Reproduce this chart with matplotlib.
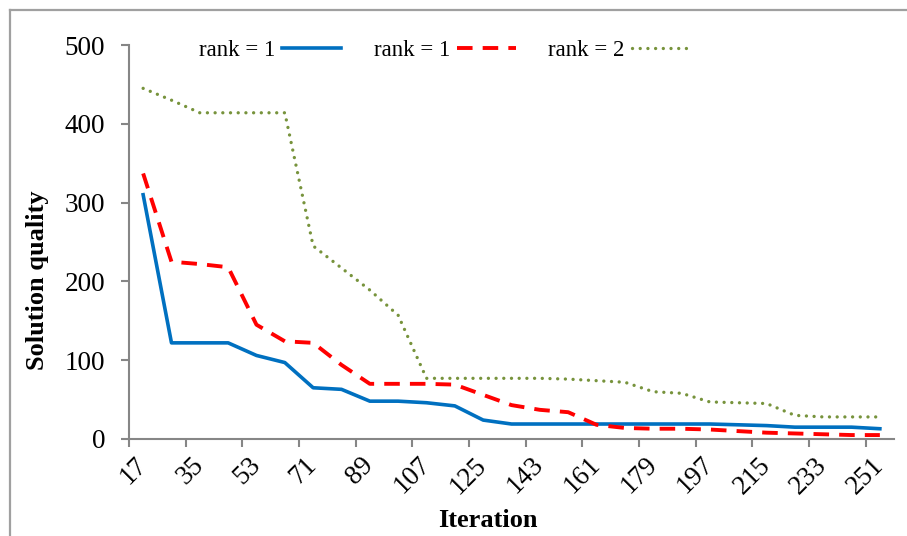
import numpy as np
import matplotlib.pyplot as plt
from matplotlib.lines import Line2D

# iteration categories (17, 26, ..., 251)
iterations = [17, 26, 35, 44, 53, 62, 71, 80, 89, 98, 107, 116, 125, 134,
              143, 152, 161, 170, 179, 188, 197, 206, 215, 224, 233, 242, 251]

rank1_a = [310, 122, 122, 122, 106, 97, 65, 63, 48, 48, 46, 42, 24, 19,
           19, 19, 19, 19, 19, 19, 19, 18, 17, 15, 15, 15, 13]
rank1_b = [337, 225, 222, 218, 145, 124, 122, 94, 70, 70, 70, 69, 56, 43,
           37, 34, 18, 14, 13, 13, 12, 10, 8, 7, 6, 5, 5]
rank2 = [445, 430, 414, 414, 414, 414, 245, 217, 189, 157, 77, 77, 77, 77,
         77, 76, 74, 72, 60, 58, 47, 46, 45, 30, 28, 28, 28]

plt.rcParams['font.family'] = ['Liberation Serif', 'DejaVu Serif']
AXCOL = '#868686'

fig = plt.figure(figsize=(9.07, 5.36), dpi=100)
ax = fig.add_axes([0.1422, 0.181, 0.8435, 0.735])

n = len(iterations)
x = np.arange(n) + 0.5

ax.plot(x, rank1_a, color='#0070C0', lw=2.6, label='rank = 1',
        solid_joinstyle='round')
ax.plot(x, rank1_b, color='#FF0000', lw=2.8, linestyle=(0, (4, 2.6)),
        label='rank = 1', dash_capstyle='butt')
ax.plot(x, rank2, color='#77933C', lw=2.4, linestyle=(0, (0.01, 2.3)),
        dash_capstyle='round', label='rank = 2')

ax.set_xlim(0, n)
ax.set_ylim(0, 500)
ax.set_yticks(np.arange(0, 501, 100))

# labels at every other category centre, tick marks on category boundaries
lab_idx = list(range(0, n, 2))
ax.set_xticks([x[i] for i in lab_idx])
ax.set_xticklabels([str(iterations[i]) for i in lab_idx])
ax.set_xticks(np.arange(0, n, 2), minor=True)
ax.tick_params(axis='x', which='major', length=0, pad=16, labelsize=19.5)
ax.tick_params(axis='x', which='minor', length=6, width=1.5, color=AXCOL,
               direction='out')
for t in ax.get_xticklabels():
    t.set_rotation(45)
    t.set_ha('right')
    t.set_va('center')
    t.set_rotation_mode('anchor')

ax.tick_params(axis='y', length=6, width=1.5, color=AXCOL, pad=11,
               labelsize=19.5)

for s in ['top', 'right']:
    ax.spines[s].set_visible(False)
for s in ['left', 'bottom']:
    ax.spines[s].set_color(AXCOL)
    ax.spines[s].set_linewidth(1.5)

ax.set_ylabel('Solution quality', fontsize=19, fontweight='bold', va='center')
ax.yaxis.set_label_coords(-0.12, 0.404)
ax.set_xlabel('Iteration', fontsize=19, fontweight='bold', va='center')
ax.xaxis.set_label_coords(0.469, -0.206)

fig.legend(loc='center', bbox_to_anchor=(0.4906, 0.9054), ncol=3,
           frameon=False, markerfirst=False, fontsize=16.5,
           handlelength=2.6, handletextpad=0.3, columnspacing=1.4)

# chart frame (left and top edges visible)
fig.add_artist(Line2D([10 / 907, 10 / 907], [0, 1 - 10 / 536],
                      transform=fig.transFigure, color='#a0a0a0', lw=1.6))
fig.add_artist(Line2D([10 / 907, 1], [1 - 10 / 536, 1 - 10 / 536],
                      transform=fig.transFigure, color='#a0a0a0', lw=1.6))

fig.savefig('out.png', dpi=100)
